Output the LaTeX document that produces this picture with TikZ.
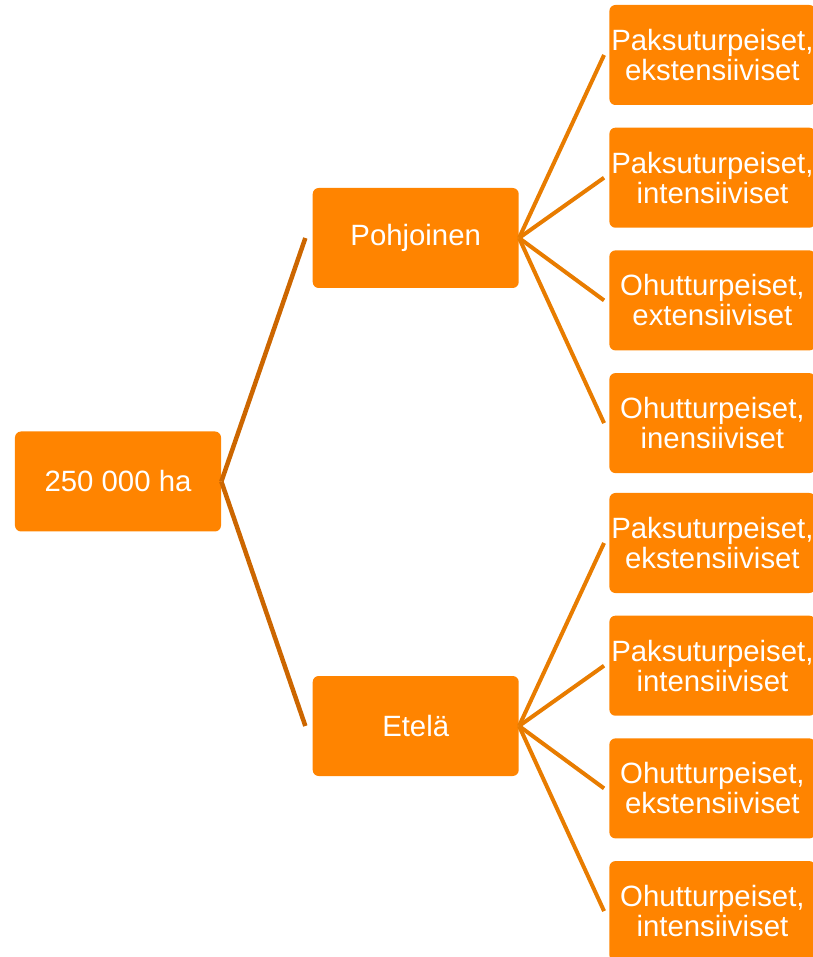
\documentclass[tikz,border=0pt]{standalone}
\usepackage{fontspec}
\setmainfont{Liberation Sans}
\usetikzlibrary{positioning}
\definecolor{boxorange}{RGB}{255,132,0}
\definecolor{darklink}{RGB}{204,102,0}
\definecolor{lightlink}{RGB}{232,124,0}

\begin{document}
\begin{tikzpicture}[
    box/.style = {
        rectangle, rounded corners=0.12cm, fill=boxorange,
        minimum width=4.12cm, minimum height=2cm, inner sep=0pt,
        align=center, text=white, font=\fontsize{16.7}{17}\selectfont
    },
    trunk/.style = {draw=darklink, line width=0.09cm},
    branch/.style = {draw=lightlink, line width=0.08cm}
]
\useasboundingbox (-2.36,-9.51) rectangle (13.90,9.63);

% Root
\node[box] (root) {250 000 ha};

% Regions
\node[box, right=1.82cm of root, yshift=4.87cm] (north) {Pohjoinen};
\node[box, right=1.82cm of root, yshift=-4.89cm] (south) {Etelä};

% Leaves of Pohjoinen
\node[box, right=1.8cm of north, yshift=3.66cm] (n1) {Paksuturpeiset,\\ekstensiiviset};
\node[box, below=0.44cm of n1] (n2) {Paksuturpeiset,\\intensiiviset};
\node[box, below=0.44cm of n2] (n3) {Ohutturpeiset,\\extensiiviset};
\node[box, below=0.44cm of n3] (n4) {Ohutturpeiset,\\inensiiviset};

% Leaves of Etelä
\node[box, right=1.8cm of south, yshift=3.66cm] (s1) {Paksuturpeiset,\\ekstensiiviset};
\node[box, below=0.44cm of s1] (s2) {Paksuturpeiset,\\intensiiviset};
\node[box, below=0.44cm of s2] (s3) {Ohutturpeiset,\\ekstensiiviset};
\node[box, below=0.44cm of s3] (s4) {Ohutturpeiset,\\intensiiviset};

% Connectors
\draw[trunk] (root.east) -- ([xshift=-0.14cm]north.west);
\draw[trunk] (root.east) -- ([xshift=-0.14cm]south.west);
\draw[branch] (north.east) -- ([xshift=-0.1cm]n1.west);
\draw[branch] (north.east) -- ([xshift=-0.1cm]n2.west);
\draw[branch] (north.east) -- ([xshift=-0.1cm]n3.west);
\draw[branch] (north.east) -- ([xshift=-0.1cm]n4.west);
\draw[branch] (south.east) -- ([xshift=-0.1cm]s1.west);
\draw[branch] (south.east) -- ([xshift=-0.1cm]s2.west);
\draw[branch] (south.east) -- ([xshift=-0.1cm]s3.west);
\draw[branch] (south.east) -- ([xshift=-0.1cm]s4.west);

\end{tikzpicture}
\end{document}
